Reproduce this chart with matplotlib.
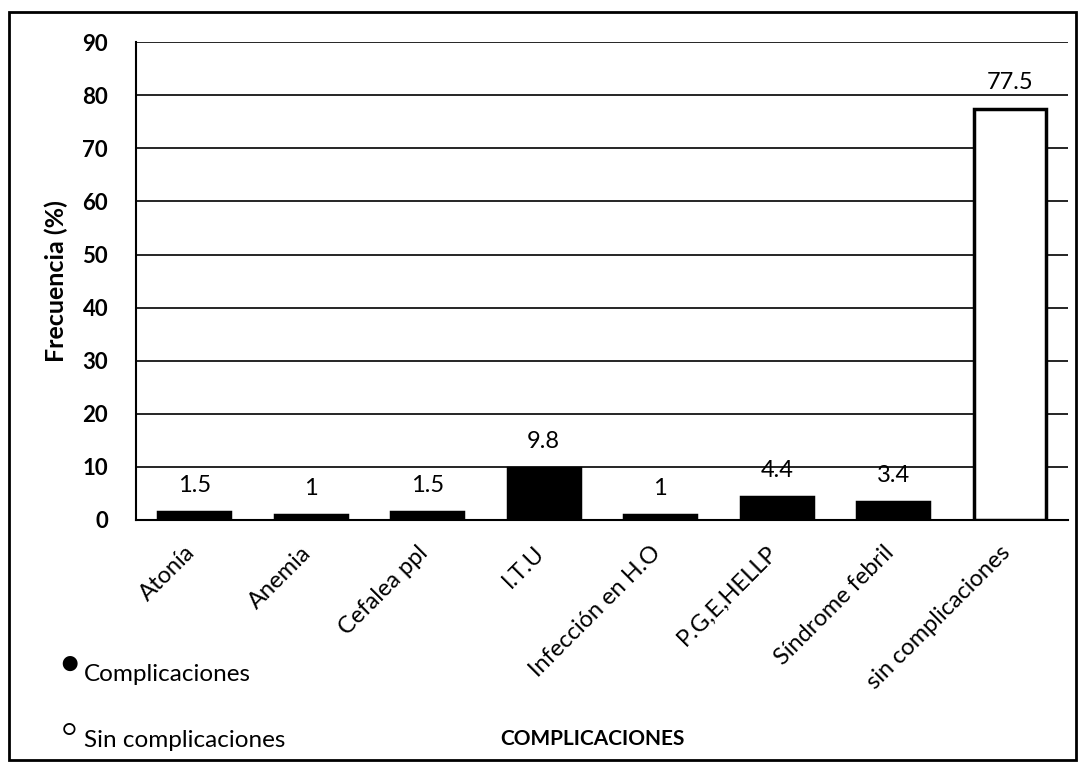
import matplotlib.pyplot as plt
from matplotlib.patches import Rectangle
from matplotlib.transforms import ScaledTranslation

# datos del gráfico
categorias = ["Atonía", "Anemia", "Cefalea ppl", "I.T.U", "Infección en H.O",
              "P.G,E,HELLP", "Síndrome febril", "sin complicaciones"]
frecuencias = [1.5, 1, 1.5, 9.8, 1, 4.4, 3.4, 77.5]
etiquetas = ["1.5", "1", "1.5", "9.8", "1", "4.4", "3.4", "77.5"]
colores = ["black"] * 7 + ["white"]

plt.rcParams["font.family"] = ["Lato", "DejaVu Sans"]

fig = plt.figure(figsize=(10.87, 7.68), dpi=100)
ax = fig.add_axes([0.125, 0.323, 0.8575, 0.622])

x = range(len(categorias))
ax.bar(x, frecuencias, width=0.62, color=colores, edgecolor="black", linewidth=2.5, zorder=3)

# valores sobre las barras
for i, (v, t) in enumerate(zip(frecuencias, etiquetas)):
    ax.text(i, v + 3, t, ha="center", va="bottom", fontsize=17)

ax.set_ylim(0, 90)
ax.set_xlim(-0.5, len(categorias) - 0.5)
ax.set_yticks(range(0, 91, 10))
ax.yaxis.grid(True, color="black", linewidth=1.2, zorder=0)
ax.tick_params(axis="y", length=0, labelsize=16, pad=20)
ax.tick_params(axis="x", length=0, labelsize=17, pad=16)
for lbl in ax.get_yticklabels():
    lbl.set_fontweight("bold")
ax.set_xticks(list(x))
ax.set_xticklabels(categorias, rotation=45, ha="right", rotation_mode="anchor")
desplaz = ScaledTranslation(-0.1, 0, fig.dpi_scale_trans)
for lbl in ax.get_xticklabels():
    lbl.set_transform(lbl.get_transform() + desplaz)

for s in ["top", "right"]:
    ax.spines[s].set_visible(False)
ax.spines["left"].set_linewidth(1.5)
ax.spines["bottom"].set_linewidth(1.5)

ax.set_ylabel("Frecuencia (%)", fontsize=18, fontweight="bold", labelpad=10)

# leyenda manual y título del eje x
fig.text(0.055, 0.118, "●", fontsize=22, va="bottom")
fig.text(0.077, 0.108, "Complicaciones", fontsize=17.5, va="bottom")
fig.text(0.057, 0.036, "○", fontsize=16, va="bottom")
fig.text(0.077, 0.022, "Sin complicaciones", fontsize=17.5, va="bottom")
fig.text(0.545, 0.038, "COMPLICACIONES", fontsize=15, fontweight="bold", ha="center", va="center")

# marco exterior
fig.patches.append(Rectangle((0.008, 0.01), 0.982, 0.975, transform=fig.transFigure,
                             fill=False, edgecolor="black", linewidth=2))

fig.savefig("out.png", dpi=100)
